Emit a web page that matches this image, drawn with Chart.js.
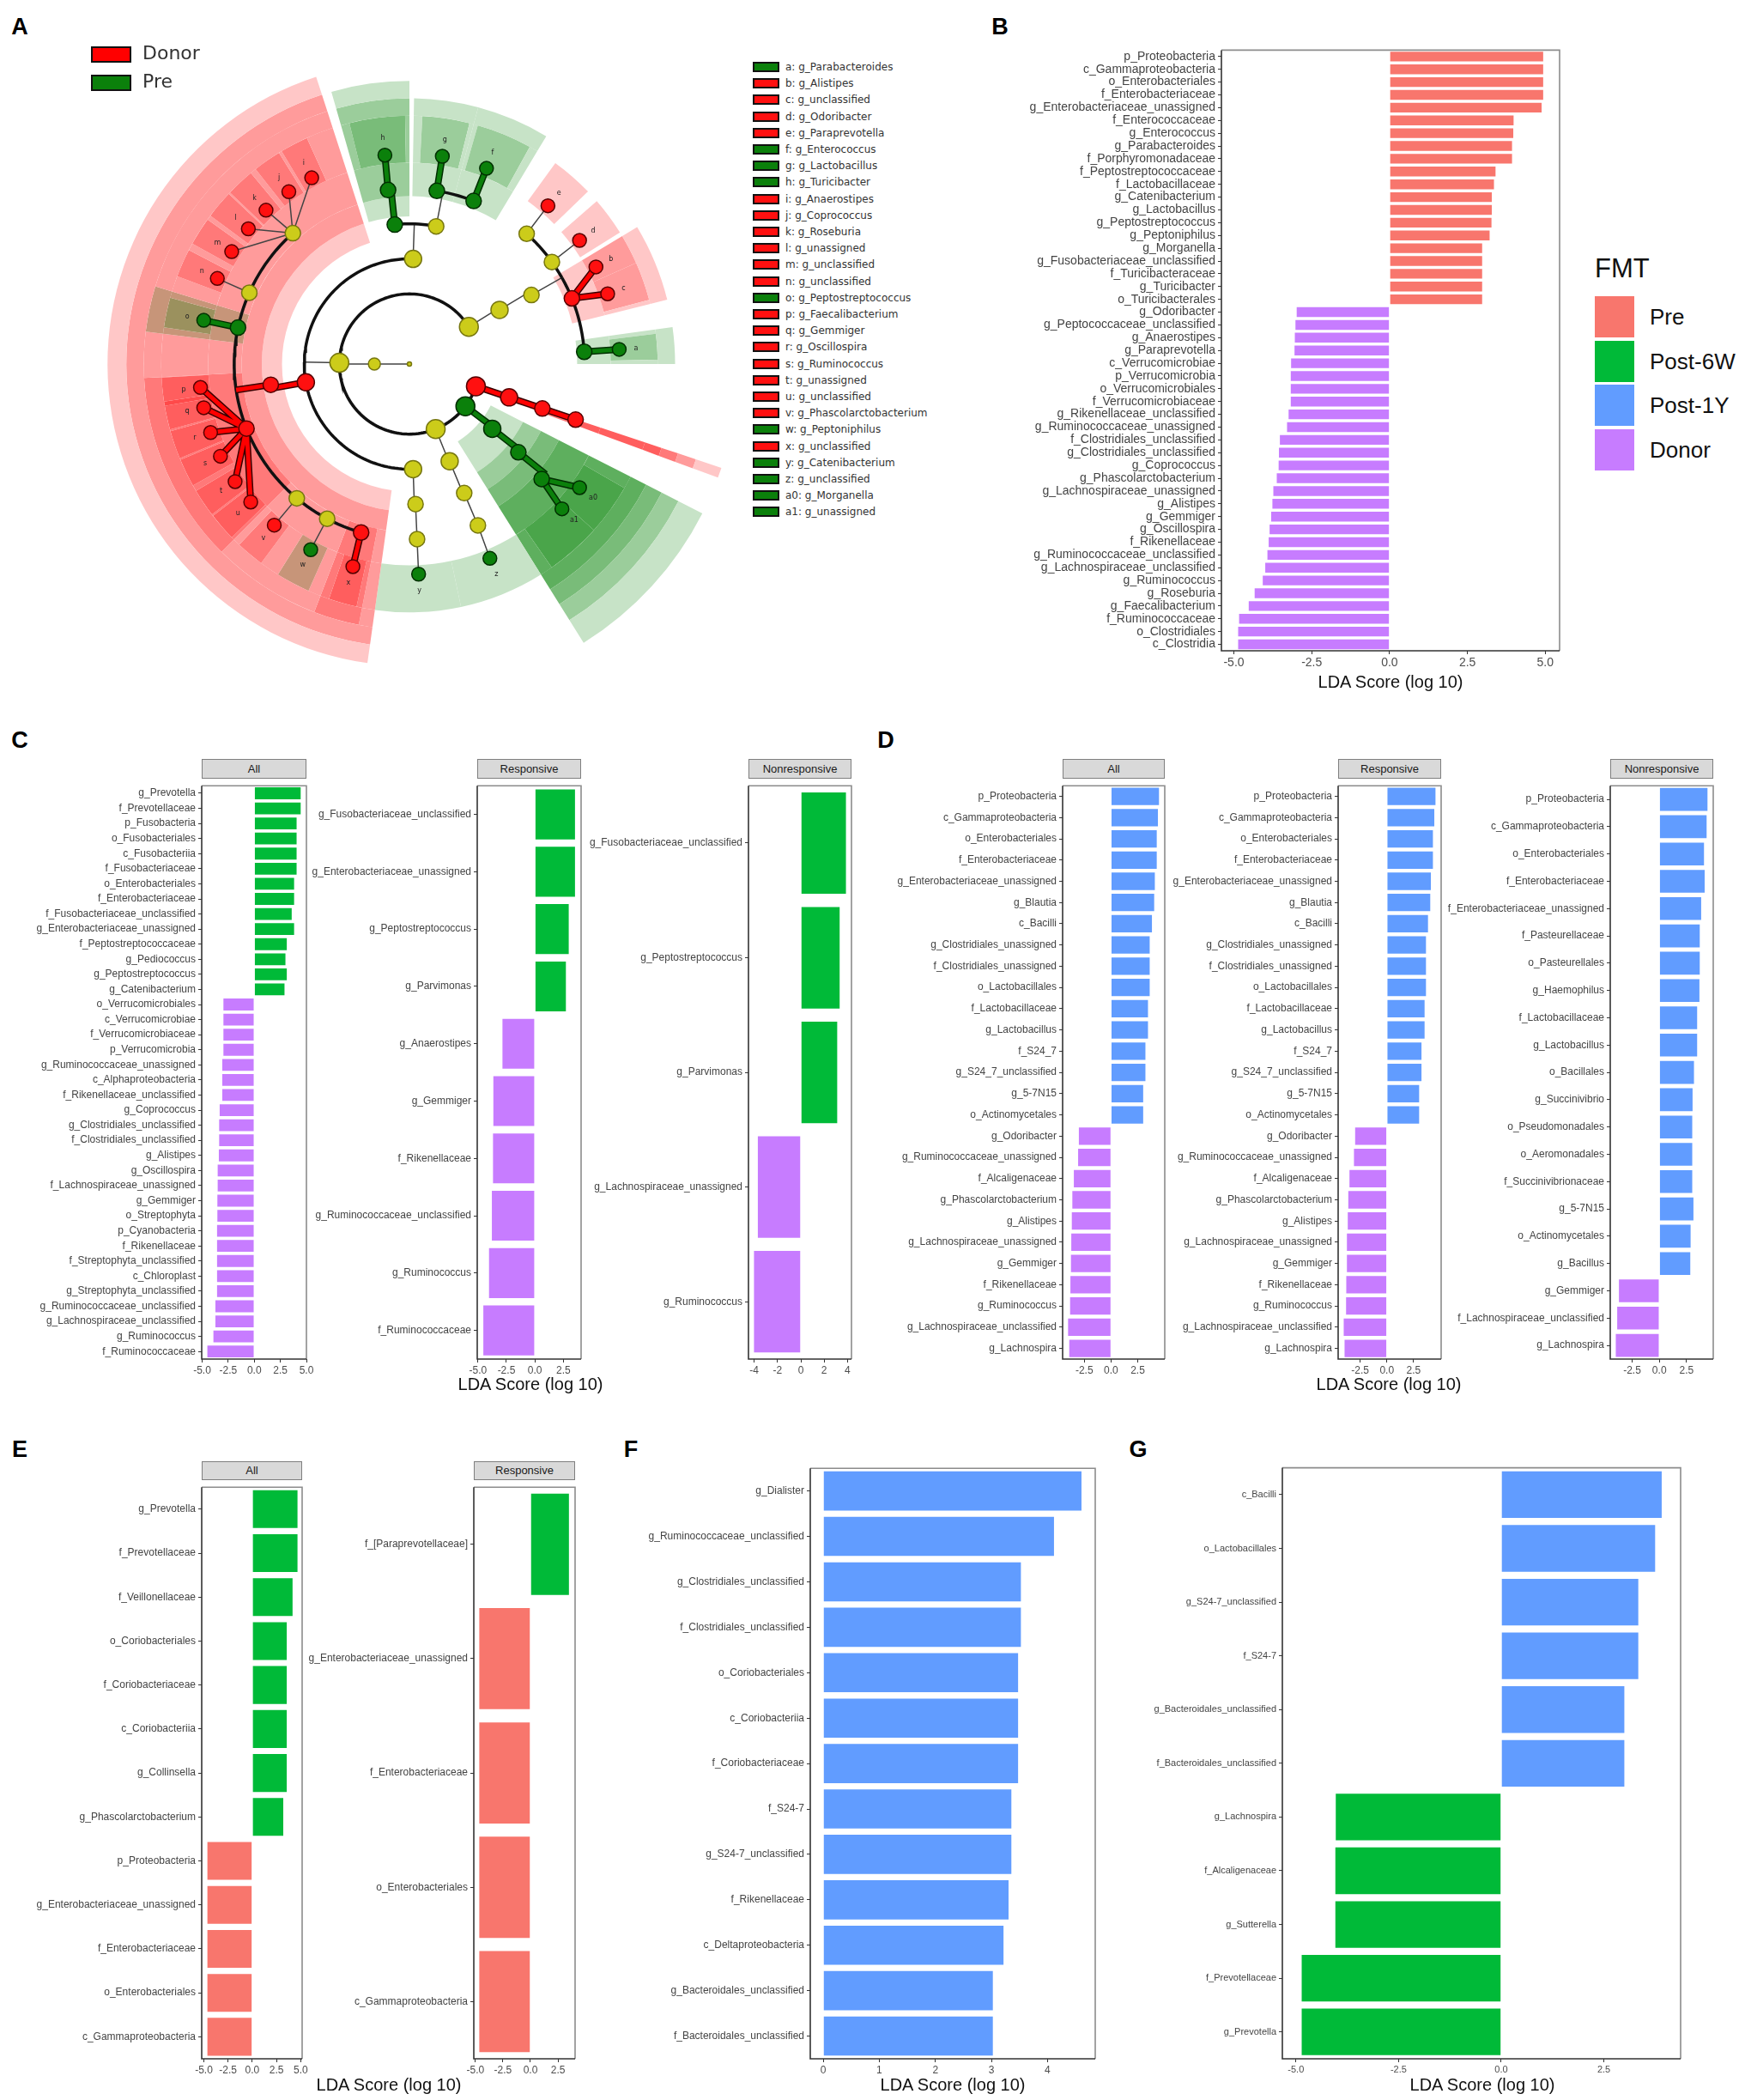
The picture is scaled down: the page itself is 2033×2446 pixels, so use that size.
<!DOCTYPE html>
<html>
<head>
<meta charset="utf-8">
<script src="https://cdn.jsdelivr.net/npm/chart.js"></script>
<style>
  body { margin: 0; background: #fff; width: 2033px; height: 2446px; position: relative; overflow: hidden;
         font-family: "Liberation Sans", Arial, sans-serif; }
  canvas { position: absolute; }
  .letter { position: absolute; font-weight: bold; font-size: 27px; color: #000; transform: translate(-50%, -50%); }
  .strip { position: absolute; background: #d9d9d9; border: 1px solid #7f7f7f; box-sizing: border-box;
           font-size: 13px; color: #1a1a1a; text-align: center; }
  .xtitle { position: absolute; font-size: 20px; color: #111; transform: translate(-50%, -50%); white-space: nowrap; }
  .lda-key { position: absolute; font-family: "DejaVu Sans", sans-serif; font-size: 12px; color: #333; white-space: nowrap; }
  .sw { position: absolute; box-sizing: border-box; border: 2px solid #111; }
</style>
</head>
<body>
<script>
// ---------- groups ----------
const fmtGroups = ['Pre', 'Post-6W', 'Post-1Y', 'Donor'];
const fmtColors = ['#F8766D', '#00BA38', '#619CFF', '#C77CFF'];

// ---------- panel B ----------
const bLabels = ['p_Proteobacteria', 'c_Gammaproteobacteria', 'o_Enterobacteriales', 'f_Enterobacteriaceae',
  'g_Enterobacteriaceae_unassigned', 'f_Enterococcaceae', 'g_Enterococcus', 'g_Parabacteroides',
  'f_Porphyromonadaceae', 'f_Peptostreptococcaceae', 'f_Lactobacillaceae', 'g_Catenibacterium',
  'g_Lactobacillus', 'g_Peptostreptococcus', 'g_Peptoniphilus', 'g_Morganella',
  'g_Fusobacteriaceae_unclassified', 'f_Turicibacteraceae', 'g_Turicibacter', 'o_Turicibacterales',
  'g_Odoribacter', 'g_Peptococcaceae_unclassified', 'g_Anaerostipes', 'g_Paraprevotella',
  'c_Verrucomicrobiae', 'p_Verrucomicrobia', 'o_Verrucomicrobiales', 'f_Verrucomicrobiaceae',
  'g_Rikenellaceae_unclassified', 'g_Ruminococcaceae_unassigned', 'f_Clostridiales_unclassified',
  'g_Clostridiales_unclassified', 'g_Coprococcus', 'g_Phascolarctobacterium', 'g_Lachnospiraceae_unassigned',
  'g_Alistipes', 'g_Gemmiger', 'g_Oscillospira', 'f_Rikenellaceae', 'g_Ruminococcaceae_unclassified',
  'g_Lachnospiraceae_unclassified', 'g_Ruminococcus', 'g_Roseburia', 'g_Faecalibacterium',
  'f_Ruminococcaceae', 'o_Clostridiales', 'c_Clostridia'];
const bValues = [4.96, 4.96, 4.96, 4.96, 4.91, 4.01, 4.0, 3.96, 3.96, 3.43, 3.38, 3.31, 3.31, 3.3, 3.24,
  3.0, 3.0, 3.0, 3.0, 3.0,
  -3.01, -3.05, -3.07, -3.08, -3.19, -3.2, -3.2, -3.2, -3.27, -3.32, -3.55, -3.58, -3.59, -3.65, -3.76,
  -3.79, -3.83, -3.88, -3.91, -3.95, -4.02, -4.1, -4.36, -4.55, -4.86, -4.89, -4.89];

// ---------- panel C ----------
const cAllLabels = ['g_Prevotella', 'f_Prevotellaceae', 'p_Fusobacteria', 'o_Fusobacteriales', 'c_Fusobacteriia',
  'f_Fusobacteriaceae', 'o_Enterobacteriales', 'f_Enterobacteriaceae', 'f_Fusobacteriaceae_unclassified',
  'g_Enterobacteriaceae_unassigned', 'f_Peptostreptococcaceae', 'g_Pediococcus', 'g_Peptostreptococcus',
  'g_Catenibacterium', 'o_Verrucomicrobiales', 'c_Verrucomicrobiae', 'f_Verrucomicrobiaceae',
  'p_Verrucomicrobia', 'g_Ruminococcaceae_unassigned', 'c_Alphaproteobacteria', 'f_Rikenellaceae_unclassified',
  'g_Coprococcus', 'g_Clostridiales_unclassified', 'f_Clostridiales_unclassified', 'g_Alistipes',
  'g_Oscillospira', 'f_Lachnospiraceae_unassigned', 'g_Gemmiger', 'o_Streptophyta', 'p_Cyanobacteria',
  'f_Rikenellaceae', 'f_Streptophyta_unclassified', 'c_Chloroplast', 'g_Streptophyta_unclassified',
  'g_Ruminococcaceae_unclassified', 'g_Lachnospiraceae_unclassified', 'g_Ruminococcus', 'f_Ruminococcaceae'];
const cAllValues = [4.53, 4.53, 4.14, 4.14, 4.14, 4.14, 3.9, 3.9, 3.67, 3.9, 3.2, 3.07, 3.2, 2.98,
  -3.04, -3.04, -3.04, -3.04, -3.15, -3.15, -3.15, -3.4, -3.45, -3.45, -3.48, -3.59, -3.59, -3.62, -3.62,
  -3.65, -3.65, -3.65, -3.65, -3.65, -3.81, -3.81, -4.0, -4.58];
const cRespLabels = ['g_Fusobacteriaceae_unclassified', 'g_Enterobacteriaceae_unassigned', 'g_Peptostreptococcus',
  'g_Parvimonas', 'g_Anaerostipes', 'g_Gemmiger', 'f_Rikenellaceae', 'g_Ruminococcaceae_unclassified',
  'g_Ruminococcus', 'f_Ruminococcaceae'];
const cRespValues = [3.6, 3.6, 3.05, 2.8, -2.92, -3.72, -3.75, -3.85, -4.1, -4.6];
const cNonLabels = ['g_Fusobacteriaceae_unclassified', 'g_Peptostreptococcus', 'g_Parvimonas',
  'g_Lachnospiraceae_unassigned', 'g_Ruminococcus'];
const cNonValues = [3.94, 3.4, 3.19, -3.76, -4.09];

// ---------- panel D ----------
const dAllLabels = ['p_Proteobacteria', 'c_Gammaproteobacteria', 'o_Enterobacteriales', 'f_Enterobacteriaceae',
  'g_Enterobacteriaceae_unassigned', 'g_Blautia', 'c_Bacilli', 'g_Clostridiales_unassigned',
  'f_Clostridiales_unassigned', 'o_Lactobacillales', 'f_Lactobacillaceae', 'g_Lactobacillus', 'f_S24_7',
  'g_S24_7_unclassified', 'g_5-7N15', 'o_Actinomycetales', 'g_Odoribacter', 'g_Ruminococcaceae_unassigned',
  'f_Alcaligenaceae', 'g_Phascolarctobacterium', 'g_Alistipes', 'g_Lachnospiraceae_unassigned', 'g_Gemmiger',
  'f_Rikenellaceae', 'g_Ruminococcus', 'g_Lachnospiraceae_unclassified', 'g_Lachnospira'];
const dAllValues = [4.57, 4.47, 4.36, 4.36, 4.18, 4.12, 3.91, 3.7, 3.7, 3.7, 3.54, 3.54, 3.3, 3.3, 3.09, 3.09,
  -3.09, -3.16, -3.56, -3.7, -3.75, -3.8, -3.83, -3.88, -3.91, -4.1, -3.99];
const dRespLabels = dAllLabels.slice();
const dRespValues = [4.63, 4.52, 4.39, 4.39, 4.2, 4.14, 3.93, 3.74, 3.74, 3.74, 3.61, 3.61, 3.32, 3.32, 3.1, 3.1,
  -3.05, -3.16, -3.58, -3.69, -3.74, -3.82, -3.82, -3.88, -3.9, -4.12, -4.04];
const dNonLabels = ['p_Proteobacteria', 'c_Gammaproteobacteria', 'o_Enterobacteriales', 'f_Enterobacteriaceae',
  'f_Enterobacteriaceae_unassigned', 'f_Pasteurellaceae', 'o_Pasteurellales', 'g_Haemophilus',
  'f_Lactobacillaceae', 'g_Lactobacillus', 'o_Bacillales', 'g_Succinivibrio', 'o_Pseudomonadales',
  'o_Aeromonadales', 'f_Succinivibrionaceae', 'g_5-7N15', 'o_Actinomycetales', 'g_Bacillus', 'g_Gemmiger',
  'f_Lachnospiraceae_unclassified', 'g_Lachnospira'];
const dNonValues = [4.5, 4.42, 4.18, 4.24, 3.92, 3.79, 3.79, 3.76, 3.55, 3.55, 3.26, 3.13, 3.1, 3.1, 3.1, 3.21,
  2.95, 2.92, -3.79, -3.95, -4.08];

// ---------- panel E ----------
const eAllLabels = ['g_Prevotella', 'f_Prevotellaceae', 'f_Veillonellaceae', 'o_Coriobacteriales',
  'f_Coriobacteriaceae', 'c_Coriobacteriia', 'g_Collinsella', 'g_Phascolarctobacterium', 'p_Proteobacteria',
  'g_Enterobacteriaceae_unassigned', 'f_Enterobacteriaceae', 'o_Enterobacteriales', 'c_Gammaproteobacteria'];
const eAllValues = [4.76, 4.76, 4.25, 3.65, 3.65, 3.65, 3.65, 3.29, -4.72, -4.72, -4.72, -4.72, -4.72];
const eRespLabels = ['f_[Paraprevotellaceae]', 'g_Enterobacteriaceae_unassigned', 'f_Enterobacteriaceae',
  'o_Enterobacteriales', 'c_Gammaproteobacteria'];
const eRespValues = [3.57, -4.72, -4.72, -4.72, -4.72];

// ---------- panel F ----------
const fLabels = ['g_Dialister', 'g_Ruminococcaceae_unclassified', 'g_Clostridiales_unclassified',
  'f_Clostridiales_unclassified', 'o_Coriobacteriales', 'c_Coriobacteriia', 'f_Coriobacteriaceae', 'f_S24-7',
  'g_S24-7_unclassified', 'f_Rikenellaceae', 'c_Deltaproteobacteria', 'g_Bacteroidales_unclassified',
  'f_Bacteroidales_unclassified'];
const fValues = [4.62, 4.13, 3.54, 3.54, 3.49, 3.49, 3.49, 3.37, 3.37, 3.32, 3.23, 3.04, 3.04];

// ---------- panel G ----------
const gLabels = ['c_Bacilli', 'o_Lactobacillales', 'g_S24-7_unclassified', 'f_S24-7',
  'g_Bacteroidales_unclassified', 'f_Bacteroidales_unclassified', 'g_Lachnospira', 'f_Alcaligenaceae',
  'g_Sutterella', 'f_Prevotellaceae', 'g_Prevotella'];
const gValues = [3.93, 3.77, 3.36, 3.36, 3.02, 3.02, -4.05, -4.06, -4.06, -4.88, -4.88];

// ---------- tick labels ----------
const ticksFull = [-5, -2.5, 0, 2.5, 5];
const ticksNeg5 = [-5, -2.5, 0, 2.5];
const ticksMid = [-2.5, 0, 2.5];
const ticksInt4 = [-4, -2, 0, 2, 4];
const ticksF = [0, 1, 2, 3, 4];

// ---------- panel A : cladogram ----------
const nodeParent = [-1, 0, 1, 1, 1, 1, 1, 2, 3, 3, 3, 4, 5, 6, 7, 8, 8, 9, 10, 11, 12, 13,
  14, 14, 14, 14, 15, 16, 16, 17, 17, 17, 17, 17, 17, 17, 18, 19, 20, 21,
  22, 23, 24, 24, 25, 26, 27, 28, 29, 29, 29, 29, 29, 30, 31, 32, 32, 32, 32, 32, 32, 33, 34, 35, 36, 37, 38, 38];
const nodeLevel = [0, 1, 2, 2, 2, 2, 2, 3, 3, 3, 3, 3, 3, 3, 4, 4, 4, 4, 4, 4, 4, 4,
  5, 5, 5, 5, 5, 5, 5, 5, 5, 5, 5, 5, 5, 5, 5, 5, 5, 5,
  6, 6, 6, 6, 6, 6, 6, 6, 6, 6, 6, 6, 6, 6, 6, 6, 6, 6, 6, 6, 6, 6, 6, 6, 6, 6, 6, 6];
const nodeAngle = [180, 180, 32, 179, 292, 323, 341.5, 31, 88, 190, 272, 292.5, 322, 341.5,
  29.5, 96, 79, 188.5, 272.5, 293, 321, 341.5,
  48, 35.6, 22, 4, 97, 81, 68.5, 131.7, 156, 168, 201.6, 230, 242, 254, 272.5, 293, 319, 341.5,
  48.8, 36, 27.5, 19.5, 4, 96.7, 81, 68.5, 117.7, 125, 133, 140, 147.7, 156, 168,
  186.4, 192, 199, 206, 214, 221, 230, 242, 254.4, 272.5, 292.5, 324, 316.5];
const nodeClass = ['n', 'n', 'n', 'n', 'n', 'P', 'D', 'n', 'n', 'D', 'n', 'n', 'P', 'D',
  'n', 'P', 'n', 'D', 'n', 'n', 'P', 'D',
  'n', 'n', 'D', 'P', 'P', 'P', 'P', 'n', 'n', 'P', 'D', 'n', 'n', 'D', 'n', 'n', 'P', 'D',
  'D', 'D', 'D', 'D', 'P', 'P', 'P', 'P', 'D', 'D', 'D', 'D', 'D', 'D', 'P',
  'D', 'D', 'D', 'D', 'D', 'D', 'D', 'P', 'D', 'P', 'P', 'P', 'P'];
const genusLetters = ['e', 'd', 'b', 'c', 'a', 'h', 'g', 'f', 'i', 'j', 'k', 'l', 'm', 'n', 'o',
  'p', 'q', 'r', 's', 't', 'u', 'v', 'w', 'x', 'y', 'z', 'a0', 'a1'];
// highlighted clades: taxonomic level, angular span (degrees), enriched group
const hlLevel = [3, 4, 5, 5, 6, 6, 6, 6, 6, 6, 6, 6, 6, 6, 6, 6, 6, 6,
  5, 6, 6, 6, 6, 2, 3, 4, 5,
  4, 5, 6, 5, 6, 5, 6, 5, 6, 6, 6, 6, 5, 6, 2, 3, 4, 5, 6, 6];
const hlFrom = [108, 108, 183, 249, 114.4, 121.7, 129.7, 136.7, 144.4, 152.7, 183.1, 188.7, 195.7, 202.7, 210.7, 217.7, 226.7, 251.1,
  14, 44, 32, 24, 15, 339.8, 339.8, 339.8, 339.8,
  90, 90, 91, 75, 76, 59, 61, 163, 164.5, 238, 262, 282, 0, 1, 302, 302, 302, 302, 318, 305];
const hlTo = [262, 262, 225, 259, 121, 128.3, 136.3, 143.3, 151, 159.3, 189.7, 195.3, 202.3, 209.3, 217.3, 224.3, 233.3, 257.7,
  31, 54, 41, 31, 24, 341.6, 341.6, 341.6, 341.6,
  106, 106, 104, 89, 87, 75, 74, 173, 171.5, 246, 282, 302, 8, 7, 333, 333, 333, 333, 330, 318];
const hlClass = ['D', 'D', 'D', 'D', 'D', 'D', 'D', 'D', 'D', 'D', 'D', 'D', 'D', 'D', 'D', 'D', 'D', 'D',
  'D', 'D', 'D', 'D', 'D', 'D', 'D', 'D', 'D',
  'P', 'P', 'P', 'P', 'P', 'P', 'P', 'P', 'P', 'P', 'P', 'P', 'P', 'P', 'P', 'P', 'P', 'P', 'P', 'P'];
const keyLetters = ['a', 'b', 'c', 'd', 'e', 'f', 'g', 'h', 'i', 'j', 'k', 'l', 'm', 'n', 'o', 'p', 'q', 'r',
  's', 't', 'u', 'v', 'w', 'x', 'y', 'z', 'a0', 'a1'];
const keyNames = ['g_Parabacteroides', 'g_Alistipes', 'g_unclassified', 'g_Odoribacter', 'g_Paraprevotella',
  'g_Enterococcus', 'g_Lactobacillus', 'g_Turicibacter', 'g_Anaerostipes', 'g_Coprococcus', 'g_Roseburia',
  'g_unassigned', 'g_unclassified', 'g_unclassified', 'g_Peptostreptococcus', 'g_Faecalibacterium',
  'g_Gemmiger', 'g_Oscillospira', 'g_Ruminococcus', 'g_unassigned', 'g_unclassified',
  'g_Phascolarctobacterium', 'g_Peptoniphilus', 'g_unclassified', 'g_Catenibacterium', 'g_unclassified',
  'g_Morganella', 'g_unassigned'];
const keyClass = ['P', 'D', 'D', 'D', 'D', 'P', 'P', 'P', 'D', 'D', 'D', 'D', 'D', 'D', 'P', 'D', 'D', 'D',
  'D', 'D', 'D', 'D', 'P', 'D', 'P', 'P', 'P', 'P'];

// ================= helpers =================
Chart.defaults.font.family = '"Liberation Sans", Arial, sans-serif';
Chart.defaults.animation = false;
const colorOf = g => fmtColors[fmtGroups.indexOf(g)];

function addDiv(cls, text, style) {
  const d = document.createElement('div');
  d.className = cls;
  d.textContent = text;
  Object.assign(d.style, style);
  document.body.appendChild(d);
  return d;
}
function addCanvas(left, top, w, h) {
  const c = document.createElement('canvas');
  c.width = w; c.height = h;
  Object.assign(c.style, {left: left + 'px', top: top + 'px', width: w + 'px', height: h + 'px'});
  document.body.appendChild(c);
  return c;
}

const frame = {
  id: 'frame',
  afterDatasetsDraw(chart) {
    const {ctx, chartArea: a} = chart;
    ctx.save();
    ctx.lineWidth = 1.6;
    ctx.strokeStyle = '#8c8c8c';
    ctx.beginPath(); ctx.moveTo(a.left, a.top); ctx.lineTo(a.right, a.top); ctx.lineTo(a.right, a.bottom); ctx.stroke();
    ctx.strokeStyle = '#333';
    ctx.beginPath(); ctx.moveTo(a.left, a.top); ctx.lineTo(a.left, a.bottom); ctx.lineTo(a.right, a.bottom); ctx.stroke();
    ctx.restore();
  }
};

function barPanel(box, labels, values, pos, neg, range, ticks, digits, fs, strip, stripH) {
  const padTop = 2, padRight = 26, axisH = 26;
  const w = box.labelW + box.right - box.left + padRight;
  const h = padTop + box.bottom - box.top + axisH;
  const cv = addCanvas(box.left - box.labelW, box.top - padTop, w, h);
  if (strip) {
    addDiv('strip', strip, {left: box.left + 'px', top: (box.top - stripH) + 'px',
      width: (box.right - box.left) + 'px', height: stripH + 'px', lineHeight: (stripH - 2) + 'px'});
  }
  new Chart(cv, {
    type: 'bar',
    data: {
      labels: labels,
      datasets: [{
        data: values,
        backgroundColor: values.map(v => colorOf(v >= 0 ? pos : neg)),
        borderColor: 'rgba(255,255,255,0.75)',
        borderWidth: 1,
        barPercentage: 0.9,
        categoryPercentage: 1
      }]
    },
    options: {
      indexAxis: 'y',
      responsive: false,
      events: [],
      layout: {padding: {top: padTop, right: padRight, left: 0, bottom: 0}},
      plugins: {legend: {display: false}, tooltip: {enabled: false}},
      scales: {
        x: {
          type: 'linear', min: range[0], max: range[1],
          afterBuildTicks: s => { s.ticks = ticks.map(v => ({value: v})); },
          afterFit: s => { s.height = axisH; },
          ticks: {callback: v => v.toFixed(digits), font: {size: fs}, color: '#4d4d4d', padding: 2,
                  maxRotation: 0, autoSkip: false},
          grid: {display: true, drawOnChartArea: false, drawTicks: true, tickLength: 4, color: '#333'},
          border: {display: false}
        },
        y: {
          type: 'category', offset: true,
          afterFit: s => { s.width = box.labelW; },
          ticks: {font: {size: fs}, color: '#444', autoSkip: false, padding: 3},
          grid: {display: true, offset: false, drawOnChartArea: false, drawTicks: true, tickLength: 4, color: '#333'},
          border: {display: false}
        }
      }
    },
    plugins: [frame]
  });
}

// ================= panel letters =================
[['A', 23, 31], ['B', 1165, 31], ['C', 23, 862], ['D', 1032, 862], ['E', 23, 1688], ['F', 735, 1688], ['G', 1326, 1688]]
  .forEach(([t, x, y]) => addDiv('letter', t, {left: x + 'px', top: y + 'px'}));

// ================= panel B =================
barPanel({left: 1423, right: 1817, top: 49, bottom: 758, labelW: 238}, bLabels, bValues, 'Pre', 'Donor',
  [-5.4, 5.46], ticksFull, 1, 14, null, 0);
addDiv('xtitle', 'LDA Score (log 10)', {left: '1620px', top: '794px'});
addDiv('xtitle', 'FMT', {left: '1858px', top: '313px', transform: 'translate(0,-50%)', fontSize: '31px'});
fmtGroups.forEach((g, i) => {
  const cy = 369 + i * 51.7;
  addDiv('sw', '', {left: '1858px', top: (cy - 24) + 'px', width: '46px', height: '48px',
    background: fmtColors[i], border: 'none', outline: '1px solid #fff'});
  addDiv('xtitle', g, {left: '1922px', top: cy + 'px', transform: 'translate(0,-50%)', fontSize: '26px'});
});

// ================= panel C =================
barPanel({left: 235, right: 357, top: 907, bottom: 1583, labelW: 205}, cAllLabels, cAllValues, 'Post-6W', 'Donor',
  [-5.04, 5.0], ticksFull, 1, 12, 'All', 23);
barPanel({left: 556, right: 677, top: 907, bottom: 1583, labelW: 198}, cRespLabels, cRespValues, 'Post-6W', 'Donor',
  [-5.06, 4.06], ticksNeg5, 1, 12, 'Responsive', 23);
barPanel({left: 872, right: 992, top: 907, bottom: 1583, labelW: 196}, cNonLabels, cNonValues, 'Post-6W', 'Donor',
  [-4.49, 4.34], ticksInt4, 0, 12, 'Nonresponsive', 23);
addDiv('xtitle', 'LDA Score (log 10)', {left: '618px', top: '1612px'});

// ================= panel D =================
barPanel({left: 1238, right: 1357, top: 907, bottom: 1583, labelW: 198}, dAllLabels, dAllValues, 'Post-1Y', 'Donor',
  [-4.53, 5.03], ticksMid, 1, 12, 'All', 23);
barPanel({left: 1559, right: 1679, top: 907, bottom: 1583, labelW: 199}, dRespLabels, dRespValues, 'Post-1Y', 'Donor',
  [-4.56, 5.08], ticksMid, 1, 12, 'Responsive', 23);
barPanel({left: 1876, right: 1996, top: 907, bottom: 1583, labelW: 196}, dNonLabels, dNonValues, 'Post-1Y', 'Donor',
  [-4.51, 4.95], ticksMid, 1, 12, 'Nonresponsive', 23);
addDiv('xtitle', 'LDA Score (log 10)', {left: '1618px', top: '1612px'});

// ================= panel E =================
barPanel({left: 235, right: 352, top: 1724, bottom: 2398, labelW: 199}, eAllLabels, eAllValues, 'Post-6W', 'Pre',
  [-5.22, 5.15], ticksFull, 1, 12, 'All', 22);
barPanel({left: 552, right: 670, top: 1724, bottom: 2398, labelW: 197}, eRespLabels, eRespValues, 'Post-6W', 'Pre',
  [-5.14, 4.05], ticksNeg5, 1, 12, 'Responsive', 22);
addDiv('xtitle', 'LDA Score (log 10)', {left: '453px', top: '2428px'});

// ================= panel F =================
barPanel({left: 944, right: 1276, top: 1702, bottom: 2398, labelW: 194}, fLabels, fValues, 'Post-1Y', 'Post-1Y',
  [-0.23, 4.85], ticksF, 0, 12, null, 0);
addDiv('xtitle', 'LDA Score (log 10)', {left: '1110px', top: '2428px'});

// ================= panel G =================
barPanel({left: 1494, right: 1958, top: 1702, bottom: 2398, labelW: 168}, gLabels, gValues, 'Post-1Y', 'Post-6W',
  [-5.33, 4.37], ticksNeg5, 1, 11, null, 0);
addDiv('xtitle', 'LDA Score (log 10)', {left: '1727px', top: '2428px'});

// ================= panel A : cladogram =================
const levelRadius = [0, 27, 54, 81, 108, 135, 162];
const cladeStart = [0, 0, 68, 95, 110, 125, 150];
const cladeOuter = [0, 0, 245, 225, 211, 198, 185];
const ringEdges = [68, 95, 110, 125, 150, 185, 198, 211, 225, 245];
const R = 245, cx = 477, cy = 424, unit = 1.5638;
const size = Math.round(2 * R * unit);
const cLeft = Math.round(cx - size / 2), cTop = Math.round(cy - size / 2);
const hlRGB = {D: [255, 0, 0], P: [0, 128, 0]};

const toCw = a => (((90 - a) % 360) + 360) % 360;
function blend(ids) {
  let c = [255, 255, 255];
  ids.forEach(i => { const t = hlRGB[hlClass[i]]; c = c.map((v, j) => v * 0.78 + t[j] * 0.22); });
  return 'rgb(' + c.map(Math.round).join(',') + ')';
}
function ring(r0, r1) {
  const ivs = [];
  hlLevel.forEach((L, i) => {
    if (!(cladeStart[L] <= r0 + 0.01 && cladeOuter[L] >= r1 - 0.01)) return;
    const s = toCw(hlTo[i]), e = toCw(hlFrom[i]);
    if (e <= s) { ivs.push([s, 360, i]); if (e > 0) ivs.push([0, e, i]); } else ivs.push([s, e, i]);
  });
  const cuts = new Set([0, 360]);
  ivs.forEach(v => { cuts.add(v[0]); cuts.add(v[1]); });
  const b = [...cuts].sort((p, q) => p - q);
  const data = [], colors = [];
  for (let k = 0; k < b.length - 1; k++) {
    const mid = (b[k] + b[k + 1]) / 2;
    const hits = ivs.filter(v => mid > v[0] && mid < v[1]).map(v => v[2]).sort((p, q) => hlLevel[p] - hlLevel[q]);
    data.push(b[k + 1] - b[k]);
    colors.push(hits.length ? blend(hits) : 'rgba(0,0,0,0)');
  }
  return {data, colors};
}
const ringSets = [];
for (let k = ringEdges.length - 2; k >= 0; k--) {
  const r = ring(ringEdges[k], ringEdges[k + 1]);
  ringSets.push({data: r.data, backgroundColor: r.colors, borderWidth: 0, hoverOffset: 0, offset: 0,
    weight: ringEdges[k + 1] - ringEdges[k]});
}
new Chart(addCanvas(cLeft, cTop, size, size), {
  type: 'doughnut',
  data: {datasets: ringSets},
  options: {responsive: false, events: [], cutout: (ringEdges[0] / R * 100) + '%', radius: '100%',
    layout: {padding: 0}, plugins: {legend: {display: false}, tooltip: {enabled: false}}}
});

const pt = (r, a) => ({x: r * Math.cos(a * Math.PI / 180), y: r * Math.sin(a * Math.PI / 180)});
const gap = {x: null, y: null};
const edges = {arc: [], thin: [], D: [], P: []};
nodeParent.forEach((p, i) => {
  if (p < 0) return;
  const rp = levelRadius[nodeLevel[p]], rc = levelRadius[nodeLevel[i]];
  const key = (nodeClass[i] !== 'n' && nodeClass[i] === nodeClass[p]) ? nodeClass[i] : 'thin';
  if (nodeLevel[i] === 6 || nodeLevel[p] === 0) {
    edges[key].push(pt(rp, nodeAngle[p]), pt(rc, nodeAngle[i]), gap);
  } else {
    edges[key].push(pt(rp, nodeAngle[p]), pt(rc, nodeAngle[p]), gap);
    const a0 = nodeAngle[p], a1 = nodeAngle[i];
    const n = Math.max(2, Math.ceil(Math.abs(a1 - a0) / 2) + 1);
    for (let k = 0; k < n; k++) edges.arc.push(pt(rc, a0 + (a1 - a0) * k / (n - 1)));
    edges.arc.push(gap);
  }
});
const nodeFill = {n: '#cccc1a', D: '#ff1010', P: '#0b800b'};
const nodeEdge = {n: '#77770f', D: '#550000', P: '#012f01'};
const nodeSize = [2.5, 7, 11, 10, 9, 9, 8];
const lineSet = (data, color, width, order) => ({data, showLine: true, pointRadius: 0, borderColor: color,
  borderWidth: width, spanGaps: false, tension: 0, order});

const letterPlugin = {
  id: 'genusLetters',
  afterDatasetsDraw(chart) {
    const {ctx, scales: {x, y}} = chart;
    ctx.save();
    ctx.font = '8px "DejaVu Sans", sans-serif';
    ctx.fillStyle = '#222';
    ctx.textAlign = 'center';
    ctx.textBaseline = 'middle';
    let g = 0;
    nodeLevel.forEach((L, i) => {
      if (L !== 6) return;
      const q = pt(175, nodeAngle[i]);
      ctx.fillText(genusLetters[g++], x.getPixelForValue(q.x), y.getPixelForValue(q.y));
    });
    ctx.restore();
  }
};

new Chart(addCanvas(cLeft, cTop, size, size), {
  type: 'scatter',
  data: {
    datasets: [
      {data: nodeLevel.map((L, i) => pt(levelRadius[L], nodeAngle[i])),
        pointBackgroundColor: nodeClass.map(c => nodeFill[c]),
        pointBorderColor: nodeClass.map(c => nodeEdge[c]),
        pointRadius: nodeLevel.map(L => nodeSize[L]),
        pointBorderWidth: 1.5, order: 0},
      lineSet(edges.D, '#ff0000', 5, 1),
      lineSet(edges.D, '#3a0000', 8, 2),
      lineSet(edges.P, '#0b800b', 5, 1),
      lineSet(edges.P, '#012f01', 8, 2),
      lineSet(edges.arc, '#111', 3.5, 3),
      lineSet(edges.thin, '#444', 1.5, 4)
    ]
  },
  options: {
    responsive: false, events: [],
    layout: {padding: 0},
    plugins: {legend: {display: false}, tooltip: {enabled: false}},
    scales: {
      x: {type: 'linear', min: -R, max: R, display: false},
      y: {type: 'linear', min: -R, max: R, display: false}
    }
  },
  plugins: [letterPlugin]
});

// legend Donor / Pre
[['Donor', '#ff0000', 63], ['Pre', '#0b800b', 96]].forEach(([t, c, y]) => {
  addDiv('sw', '', {left: '106px', top: (y - 9) + 'px', width: '47px', height: '19px', background: c});
  addDiv('lda-key', t, {left: '166px', top: (y - 14) + 'px', fontSize: '22px'});
});
// letter key list
keyLetters.forEach((k, i) => {
  const y = 78 + i * 19.2;
  addDiv('sw', '', {left: '877px', top: (y - 6) + 'px', width: '31px', height: '12px',
    background: keyClass[i] === 'D' ? '#ff1010' : '#0b800b'});
  addDiv('lda-key', k + ': ' + keyNames[i], {left: '915px', top: (y - 8) + 'px', lineHeight: '16px'});
});
</script>
</body>
</html>
